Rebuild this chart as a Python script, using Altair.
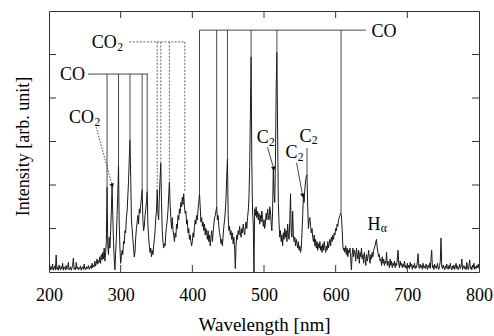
import altair as alt
import pandas as pd

# ---------------- spectrum (1 nm steps per segment) ----------------
SEG_START = [200, 276, 401, 501, 621]

BASELINE_UV = [  # 200-275 nm
    0.08, 0.15, 0.05, 0.12, 0.06, 0.18, 0.04, 0.10, 0.14, 0.05,
    0.39, 0.06, 0.11, 0.04, 0.16, 0.08, 0.05, 0.13, 0.07, 0.20,
    0.04, 0.12, 0.09, 0.05, 0.15, 0.06, 0.10, 0.22, 0.05, 0.08,
    0.12, 0.04, 0.09, 0.16, 0.32, 0.06, 0.10, 0.05, 0.22, 0.08,
    0.12, 0.05, 0.10, 0.07, 0.14, 0.04, 0.09, 0.12, 0.06, 0.18,
    0.08, 0.05, 0.12, 0.07, 0.10, 0.15, 0.06, 0.09, 0.14, 0.08,
    0.20, 0.10, 0.16, 0.12, 0.25, 0.14, 0.20, 0.30, 0.18, 0.26,
    0.22, 0.35, 0.20, 0.40, 0.28, 0.45,
]
BANDS_UV = [  # 276-400 nm
    0.30, 0.55, 0.25, 0.45, 0.70, 1.95, 0.60, 0.40, 0.80, 0.55,
    0.95, 1.40, 2.00, 1.30, 0.70, 0.30, 0.05, 0.45, 0.80, 1.30,
    1.80, 2.45, 1.10, 0.55, 0.20, 0.35, 0.50, 0.40, 0.70, 0.65,
    0.95, 0.90, 1.25, 1.40, 1.75, 2.10, 2.60, 3.03, 2.20, 1.20,
    1.00, 0.75, 0.55, 0.35, 0.45, 0.80, 1.00, 1.15, 1.30, 1.10,
    1.45, 1.35, 1.55, 1.70, 1.90, 1.20, 0.95, 1.05, 1.30, 1.45,
    1.60, 1.85, 1.10, 0.80, 0.60, 0.45, 0.55, 0.35, 0.50, 0.40,
    0.60, 0.75, 0.95, 1.25, 1.40, 1.89, 1.35, 1.20, 1.75, 2.15,
    2.50, 1.60, 0.95, 0.70, 0.55, 0.65, 0.60, 0.90, 1.05, 1.20,
    1.40, 1.75, 2.07, 1.55, 1.25, 1.00, 1.25, 0.95, 0.85, 0.70,
    0.90, 0.80, 1.10, 1.00, 1.30, 1.20, 1.45, 1.35, 1.60, 1.50,
    1.72, 1.55, 1.80, 1.50, 1.35, 1.40, 1.10, 1.20, 0.90, 1.00,
    0.75, 0.85, 0.70, 0.60, 0.70,
]
BANDS_BLUE = [  # 401-500 nm
    0.90, 0.80, 1.05, 1.20, 1.10, 1.30, 1.20, 1.45, 1.60, 1.80,
    1.50, 1.15, 1.25, 1.05, 1.15, 0.95, 1.10, 0.85, 1.00, 0.90,
    0.75, 0.95, 0.70, 0.85, 0.60, 0.80, 0.95, 0.70, 0.90, 1.10,
    1.25, 1.30, 1.40, 1.50, 1.20, 1.30, 1.05, 0.90, 0.80, 0.65,
    0.75, 0.60, 0.85, 1.05, 1.20, 1.40, 1.70, 2.20, 2.60, 1.30,
    0.95, 1.05, 0.85, 0.95, 0.75, 0.90, 0.65, 0.80, 0.55, 0.08,
    0.60, 0.85, 0.75, 0.95, 0.85, 1.05, 0.90, 0.80, 1.00, 0.90,
    1.10, 0.95, 0.85, 1.05, 1.15, 1.00, 1.25, 1.40, 1.70, 2.40,
    3.60, 4.95, 2.50, 1.40, 1.10, 0.00, 1.45, 1.30, 1.50, 1.25,
    1.40, 1.20, 1.35, 1.10, 1.30, 1.15, 1.40, 1.25, 1.05, 1.20,
]
BANDS_GREEN = [  # 501-620 nm
    1.00, 1.15, 1.35, 1.20, 1.45, 1.30, 1.20, 1.50, 1.40, 1.10,
    0.95, 1.40, 2.38, 1.80, 1.60, 2.60, 4.20, 5.05, 3.20, 1.60,
    1.10, 0.80, 0.95, 0.70, 0.85, 0.60, 0.90, 0.75, 1.00, 0.80,
    0.95, 0.70, 1.10, 0.85, 0.75, 1.20, 1.80, 0.90, 0.80, 1.40,
    0.85, 0.70, 0.80, 0.60, 0.75, 0.65, 0.55, 0.70, 0.50, 0.60,
    0.45, 0.55, 0.90, 1.30, 1.77, 1.60, 1.90, 2.10, 2.20, 2.23,
    1.50, 1.00, 1.20, 1.25, 1.05, 0.90, 1.00, 0.80, 0.70, 0.85,
    0.60, 0.75, 0.55, 0.70, 0.50, 0.65, 0.55, 0.70, 0.50, 0.60,
    0.45, 0.65, 0.50, 0.70, 0.55, 0.45, 0.60, 0.50, 0.70, 0.55,
    0.65, 0.75, 0.60, 0.80, 0.70, 0.85, 0.75, 0.90, 0.85, 1.00,
    0.95, 1.10, 1.05, 1.20, 1.25, 1.30, 1.36, 1.30, 1.00, 0.60,
    0.50, 0.55, 0.45, 0.60, 0.40, 0.55, 0.35, 0.50, 0.45, 0.55,
]
TAIL_RED = [  # 621-800 nm
    0.30, 0.05, 0.40, 0.55, 0.35, 0.50, 0.45, 0.25, 0.55, 0.40,
    0.30, 0.50, 0.20, 0.45, 0.35, 0.55, 0.30, 0.40, 0.20, 0.45,
    0.30, 0.15, 0.40, 0.25, 0.35, 0.50, 0.30, 0.20, 0.40, 0.30,
    0.45, 0.35, 0.50, 0.55, 0.60, 0.70, 0.75, 0.55, 0.45, 0.35,
    0.40, 0.25, 0.30, 0.15, 0.35, 0.20, 0.30, 0.15, 0.25, 0.20,
    0.45, 0.15, 0.25, 0.20, 0.10, 0.30, 0.15, 0.25, 0.10, 0.20,
    0.15, 0.25, 0.10, 0.20, 0.15, 0.30, 0.50, 0.20, 0.10, 0.25,
    0.15, 0.20, 0.10, 0.18, 0.12, 0.25, 0.10, 0.15, 0.08, 0.20,
    0.10, 0.16, 0.08, 0.22, 0.12, 0.18, 0.06, 0.15, 0.10, 0.20,
    0.08, 0.14, 0.10, 0.25, 0.42, 0.12, 0.08, 0.18, 0.10, 0.15,
    0.06, 0.20, 0.10, 0.14, 0.08, 0.18, 0.12, 0.06, 0.16, 0.10,
    0.20, 0.08, 0.30, 0.50, 0.10, 0.15, 0.06, 0.18, 0.10, 0.14,
    0.08, 0.20, 0.10, 0.06, 0.15, 0.25, 0.78, 0.12, 0.08, 0.16,
    0.10, 0.05, 0.14, 0.08, 0.18, 0.10, 0.06, 0.15, 0.08, 0.20,
    0.10, 0.05, 0.14, 0.08, 0.16, 0.06, 0.12, 0.20, 0.08, 0.14,
    0.05, 0.10, 0.18, 0.08, 0.12, 0.30, 0.06, 0.10, 0.15, 0.08,
    0.12, 0.05, 0.22, 0.10, 0.06, 0.14, 0.28, 0.08, 0.12, 0.05,
    0.16, 0.10, 0.20, 0.06, 0.12, 0.08, 0.15, 0.10, 0.18, 0.08,
]
SEGMENTS = [BASELINE_UV, BANDS_UV, BANDS_BLUE, BANDS_GREEN, TAIL_RED]

# ---------------- annotation lines ----------------
CO_LEFT_NM = [281, 297, 313, 330, 337]
CO_LEFT_BOTTOM = [1.95, 2.45, 3.03, 1.90, 1.85]
CO_LEFT_LEVEL = 4.55
CO_LEFT_SPAN = [254.5, 338.4]

CO2_NM = [351, 356, 368, 389.5]
CO2_BOTTOM = [1.89, 2.50, 2.07, 1.85]
CO2_LEVEL = 5.29
CO2_SPAN = [312, 389.5]

CO_RIGHT_NM = [410, 434, 449, 482, 518, 607.5]
CO_RIGHT_BOTTOM = [1.80, 1.50, 2.60, 4.95, 5.05, 1.36]
CO_RIGHT_LEVEL = 5.56
CO_RIGHT_SPAN = [410, 642]

# labels: main text, left edge (nm), baseline (intensity)
LABEL_MAIN = ["CO", "CO", "CO", "CO", "C", "C", "C", "H"]
LABEL_X = [215.4, 259.7, 228.0, 650.0, 490.0, 530.0, 549.7, 644.3]
LABEL_Y = [4.41, 5.14, 3.42, 5.40, 2.96, 2.61, 3.00, 0.97]

# pointer lines (x1, y1) -> (x2, y2)
PTR_X1 = [265.7, 504.9, 545.5, 560.0]
PTR_Y1 = [3.33, 2.87, 2.51, 2.85]
PTR_X2 = [288.0, 513.3, 553.8, 560.0]
PTR_Y2 = [2.00, 2.39, 1.77, 2.23]
PTR_DOTTED = [True, False, False, False]
HEAD_ANGLE = [164.6, 164.0, 169.0, None]

X_TICKS = [200, 300, 400, 500, 600, 700, 800]
Y_TICKS = [1, 2, 3, 4, 5]

# ---------------- build tables ----------------
wl, inten = [], []
for start, seg in zip(SEG_START, SEGMENTS):
    for i, v in enumerate(seg):
        wl.append(start + i)
        inten.append(v)
spec = pd.DataFrame({"nm": wl, "I": inten})

FONT = "Liberation Serif"
XS = alt.Scale(domain=[200, 800], nice=False, zero=False)
YS = alt.Scale(domain=[0, 6], nice=False, zero=False)
INK = "#1a1a1a"

X_AXIS = alt.Axis(
    values=X_TICKS, ticks=False, tickSize=0, domain=False, grid=False,
    labelFont=FONT, labelFontSize=18, labelColor="black",
    labelBaseline="alphabetic", labelPadding=28, labelFlush=False,
    title="Wavelength [nm]", titleFont=FONT, titleFontSize=19,
    titleFontWeight="normal", titleColor="black",
    titleBaseline="alphabetic", titleY=58)
Y_AXIS = alt.Axis(
    values=Y_TICKS, ticks=False, tickSize=0, domain=False, grid=False,
    labels=False,
    title="Intensity [arb. unit]", titleFont=FONT, titleFontSize=18,
    titleFontWeight="normal", titleColor="black",
    titleBaseline="alphabetic", titleX=-21, titleY=135)


def X(field):
    return alt.X(field, scale=XS, axis=X_AXIS, title="Wavelength [nm]")


def Y(field):
    return alt.Y(field, scale=YS, axis=Y_AXIS, title="Intensity [arb. unit]")


line = alt.Chart(spec).mark_line(color=INK, strokeWidth=1.0, clip=True).encode(
    x=X("nm:Q"), y=Y("I:Q"))


def vlines(nms, bottoms, level, dashed):
    df = pd.DataFrame({"nm": nms, "b": bottoms, "t": [level] * len(nms)})
    kw = dict(color="#555" if dashed else "#333", strokeWidth=0.9)
    if dashed:
        kw["strokeDash"] = [2, 1.5]
    return alt.Chart(df).mark_rule(**kw).encode(x=X("nm:Q"), y=Y("t:Q"), y2="b:Q")


def hline(span, level, dashed):
    df = pd.DataFrame({"a": [span[0]], "b": [span[1]], "y": [level]})
    kw = dict(color="#555" if dashed else "#333", strokeWidth=0.9)
    if dashed:
        kw["strokeDash"] = [2, 1.5]
    return alt.Chart(df).mark_rule(**kw).encode(x=X("a:Q"), x2="b:Q", y=Y("y:Q"))


labels = pd.DataFrame({"t": LABEL_MAIN, "x": LABEL_X, "y": LABEL_Y})
main_text = alt.Chart(labels).mark_text(
    font=FONT, fontSize=18, align="left", baseline="alphabetic", color="black"
).encode(x=X("x:Q"), y=Y("y:Q"), text="t:N")


def sub_text(rows, txt, dx):
    df = labels.iloc[rows].assign(s=txt)
    return alt.Chart(df).mark_text(
        font=FONT, fontSize=11.5, align="left", baseline="alphabetic",
        color="black", dx=dx, dy=2.5
    ).encode(x=X("x:Q"), y=Y("y:Q"), text="s:N")


sub_co2 = sub_text([1, 2], "2", 25.5)
sub_c2 = sub_text([4, 5, 6], "2", 12.2)
sub_h = sub_text([7], "α", 13.3)

ptr = pd.DataFrame({"x1": PTR_X1, "y1": PTR_Y1, "x2": PTR_X2, "y2": PTR_Y2,
                    "dot": PTR_DOTTED})
ptr_dot = alt.Chart(ptr[ptr["dot"]]).mark_rule(
    color="#333", strokeWidth=0.9, strokeDash=[1.5, 1.5]).encode(
    x=X("x1:Q"), x2="x2:Q", y=Y("y1:Q"), y2="y2:Q")
ptr_solid = alt.Chart(ptr[~ptr["dot"]]).mark_rule(color="#333", strokeWidth=0.9).encode(
    x=X("x1:Q"), x2="x2:Q", y=Y("y1:Q"), y2="y2:Q")

heads = pd.DataFrame({"x": PTR_X2[:3], "y": PTR_Y2[:3], "a": HEAD_ANGLE[:3]})
head_marks = alt.Chart(heads).mark_point(
    shape="triangle", filled=True, size=22, color="#111", opacity=1).encode(
    x=X("x:Q"), y=Y("y:Q"), angle=alt.Angle("a:Q", scale=None))

# inward ticks on all four sides
xt = pd.DataFrame({"v": X_TICKS[1:-1]})
yt = pd.DataFrame({"v": Y_TICKS})
TK = dict(color="#333", strokeWidth=1)
tick_b = alt.Chart(xt).mark_rule(**TK).encode(x=X("v:Q"), y=alt.value(261), y2=alt.value(254))
tick_t = alt.Chart(xt).mark_rule(**TK).encode(x=X("v:Q"), y=alt.value(0), y2=alt.value(7))
tick_l = alt.Chart(yt).mark_rule(**TK).encode(y=Y("v:Q"), x=alt.value(0), x2=alt.value(7))
tick_r = alt.Chart(yt).mark_rule(**TK).encode(y=Y("v:Q"), x=alt.value(430), x2=alt.value(423))

chart = alt.layer(
    line,
    vlines(CO_LEFT_NM, CO_LEFT_BOTTOM, CO_LEFT_LEVEL, False),
    hline(CO_LEFT_SPAN, CO_LEFT_LEVEL, False),
    vlines(CO2_NM, CO2_BOTTOM, CO2_LEVEL, True),
    hline(CO2_SPAN, CO2_LEVEL, True),
    vlines(CO_RIGHT_NM, CO_RIGHT_BOTTOM, CO_RIGHT_LEVEL, False),
    hline(CO_RIGHT_SPAN, CO_RIGHT_LEVEL, False),
    ptr_dot, ptr_solid, head_marks,
    main_text, sub_co2, sub_c2, sub_h,
    tick_b, tick_t, tick_l, tick_r,
).properties(
    width=430, height=261,
    autosize=alt.AutoSizeParams(type="none"),
    padding={"left": 49, "top": 11, "right": 15, "bottom": 64},
    background="white",
).configure_view(stroke="#333", strokeWidth=1)

chart.save("out.html", embed_options={"renderer": "svg", "actions": False})
